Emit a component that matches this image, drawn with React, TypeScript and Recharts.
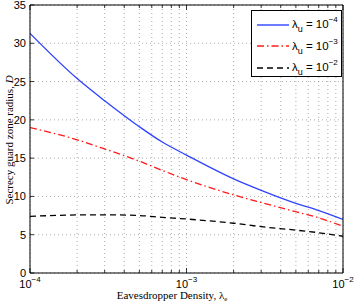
import { LineChart, Line, XAxis, YAxis, CartesianGrid, Legend } from 'recharts';

// Eavesdropper density (log axis)
const density = [1e-4, 2e-4, 3e-4, 5e-4, 7e-4, 1e-3, 2e-3, 3e-3, 5e-3, 7e-3, 1e-2];
const radiusU4 = [31.3, 25.4, 22.5, 19.1, 17.1, 15.4, 12.3, 10.8, 9.1, 8.15, 7.0];
const radiusU3 = [19.0, 17.4, 16.2, 14.6, 13.4, 12.2, 10.2, 9.2, 8.0, 7.2, 6.1];
const radiusU2 = [7.4, 7.58, 7.6, 7.5, 7.27, 7.05, 6.5, 6.05, 5.6, 5.26, 4.8];

const xTicks = [
  1e-4, 2e-4, 3e-4, 4e-4, 5e-4, 6e-4, 7e-4, 8e-4, 9e-4,
  1e-3, 2e-3, 3e-3, 4e-3, 5e-3, 6e-3, 7e-3, 8e-3, 9e-3, 1e-2,
];
const xMajor = [1e-4, 1e-3, 1e-2];
const yTicks = [0, 5, 10, 15, 20, 25, 30, 35];

const series = [
  { key: 'u4', exp: '−4', color: '#2f43ff', dash: undefined },
  { key: 'u3', exp: '−3', color: '#ff1a1a', dash: '7 3 1.5 3' },
  { key: 'u2', exp: '−2', color: '#000000', dash: '6 4' },
];

const data = density.map((d, i) => ({
  x: d,
  u4: radiusU4[i],
  u3: radiusU3[i],
  u2: radiusU2[i],
}));

const SANS = '"Liberation Sans", Arial, sans-serif';
const SERIF = '"Liberation Serif", "Times New Roman", serif';

const isMajor = (v: number) => xMajor.some(m => Math.abs(m - v) / m < 1e-6);

/* ── tick renderers (inward ticks like MATLAB) ─────────── */
function BottomTick({ x, y, payload }: any) {
  const major = isMajor(payload.value);
  const exp = Math.round(Math.log10(payload.value));
  return (
    <g>
      <line x1={x} y1={y} x2={x} y2={y - (major ? 5 : 3)} stroke="#000" strokeWidth={0.8} />
      {major && (
        <text x={x} y={y + 15} textAnchor="middle" fontFamily={SANS} fontSize={11} fill="#000">
          10<tspan dy={-6} fontSize={8}>{`−${Math.abs(exp)}`}</tspan>
        </text>
      )}
    </g>
  );
}

function TopTick({ x, y, payload }: any) {
  const major = isMajor(payload.value);
  return <line x1={x} y1={y} x2={x} y2={y + (major ? 5 : 3)} stroke="#000" strokeWidth={0.8} />;
}

function LeftTick({ x, y, payload }: any) {
  return (
    <g>
      <line x1={x} y1={y} x2={x + 4} y2={y} stroke="#000" strokeWidth={0.8} />
      <text x={x - 4} y={y + 4} textAnchor="end" fontFamily={SANS} fontSize={11} fill="#000">
        {payload.value}
      </text>
    </g>
  );
}

function RightTick({ x, y }: any) {
  return <line x1={x} y1={y} x2={x - 4} y2={y} stroke="#000" strokeWidth={0.8} />;
}

function LegendBox() {
  return (
    <div
      style={{
        width: 91,
        height: 67,
        border: '1px solid #000',
        background: '#fff',
        boxSizing: 'border-box',
        padding: '3px 0 0 5px',
      }}
    >
      {series.map(s => (
        <div key={s.key} style={{ display: 'flex', alignItems: 'center', height: 21.5 }}>
          <svg width={32} height={6} style={{ flex: 'none' }}>
            <line x1={0} y1={3} x2={32} y2={3} stroke={s.color} strokeWidth={1.4} strokeDasharray={s.dash} />
          </svg>
          <span style={{ fontFamily: SANS, fontSize: 11.5, marginLeft: 3, whiteSpace: 'nowrap', color: '#000' }}>
            λ<sub style={{ fontSize: 9, verticalAlign: -4 }}>u</sub> = 10
            <sup style={{ fontSize: 8, verticalAlign: 6 }}>{s.exp}</sup>
          </span>
        </div>
      ))}
    </div>
  );
}

export default function App() {
  return (
    <div style={{ position: 'relative', width: 354, height: 304, background: '#fff' }}>
      <style>{'body{margin:0}'}</style>
      <LineChart width={354} height={304} data={data} margin={{ top: 4, right: 10, bottom: 0, left: 0 }}>
        <CartesianGrid stroke="#8a8a8a" strokeWidth={0.7} strokeDasharray="1 3" />
        <XAxis
          dataKey="x"
          type="number"
          scale="log"
          domain={[1e-4, 1e-2]}
          ticks={xTicks}
          interval={0}
          height={31}
          tickSize={0}
          tickMargin={0}
          tickLine={false}
          tick={<BottomTick />}
          axisLine={{ stroke: '#000', strokeWidth: 1 }}
          allowDataOverflow
        />
        <XAxis
          xAxisId="top"
          dataKey="x"
          type="number"
          scale="log"
          orientation="top"
          domain={[1e-4, 1e-2]}
          ticks={xTicks}
          interval={0}
          height={1}
          tickSize={0}
          tickMargin={0}
          tickLine={false}
          tick={<TopTick />}
          axisLine={{ stroke: '#000', strokeWidth: 1 }}
          allowDataOverflow
        />
        <YAxis
          type="number"
          domain={[0, 35]}
          ticks={yTicks}
          interval={0}
          width={30}
          tickSize={0}
          tickMargin={0}
          tickLine={false}
          tick={<LeftTick />}
          axisLine={{ stroke: '#000', strokeWidth: 1 }}
        />
        <YAxis
          yAxisId="right"
          orientation="right"
          type="number"
          domain={[0, 35]}
          ticks={yTicks}
          interval={0}
          width={1}
          tickSize={0}
          tickMargin={0}
          tickLine={false}
          tick={<RightTick />}
          axisLine={{ stroke: '#000', strokeWidth: 1 }}
        />
        {series.map(s => (
          <Line
            key={s.key}
            dataKey={s.key}
            type="monotone"
            stroke={s.color}
            strokeWidth={1.3}
            strokeDasharray={s.dash}
            dot={false}
            activeDot={false}
            isAnimationActive={false}
          />
        ))}
        <Legend
          layout="vertical"
          align="center"
          verticalAlign="middle"
          content={<LegendBox />}
          wrapperStyle={{ position: 'absolute', top: 10, left: 251, width: 'auto' }}
        />
      </LineChart>

      {/* axis labels */}
      <div
        style={{
          position: 'absolute',
          left: 9,
          top: 140,
          transform: 'translate(-50%, -50%) rotate(-90deg)',
          fontFamily: SERIF,
          fontSize: 11,
          whiteSpace: 'nowrap',
          color: '#000',
        }}
      >
        Secrecy guard zone radius, <i>D</i>
      </div>
      <div
        style={{
          position: 'absolute',
          left: 172,
          top: 296,
          transform: 'translate(-50%, -50%)',
          fontFamily: SERIF,
          fontSize: 11,
          whiteSpace: 'nowrap',
          color: '#000',
        }}
      >
        Eavesdropper Density, λ<sub style={{ fontSize: 7, verticalAlign: -2 }}>e</sub>
      </div>
    </div>
  );
}
